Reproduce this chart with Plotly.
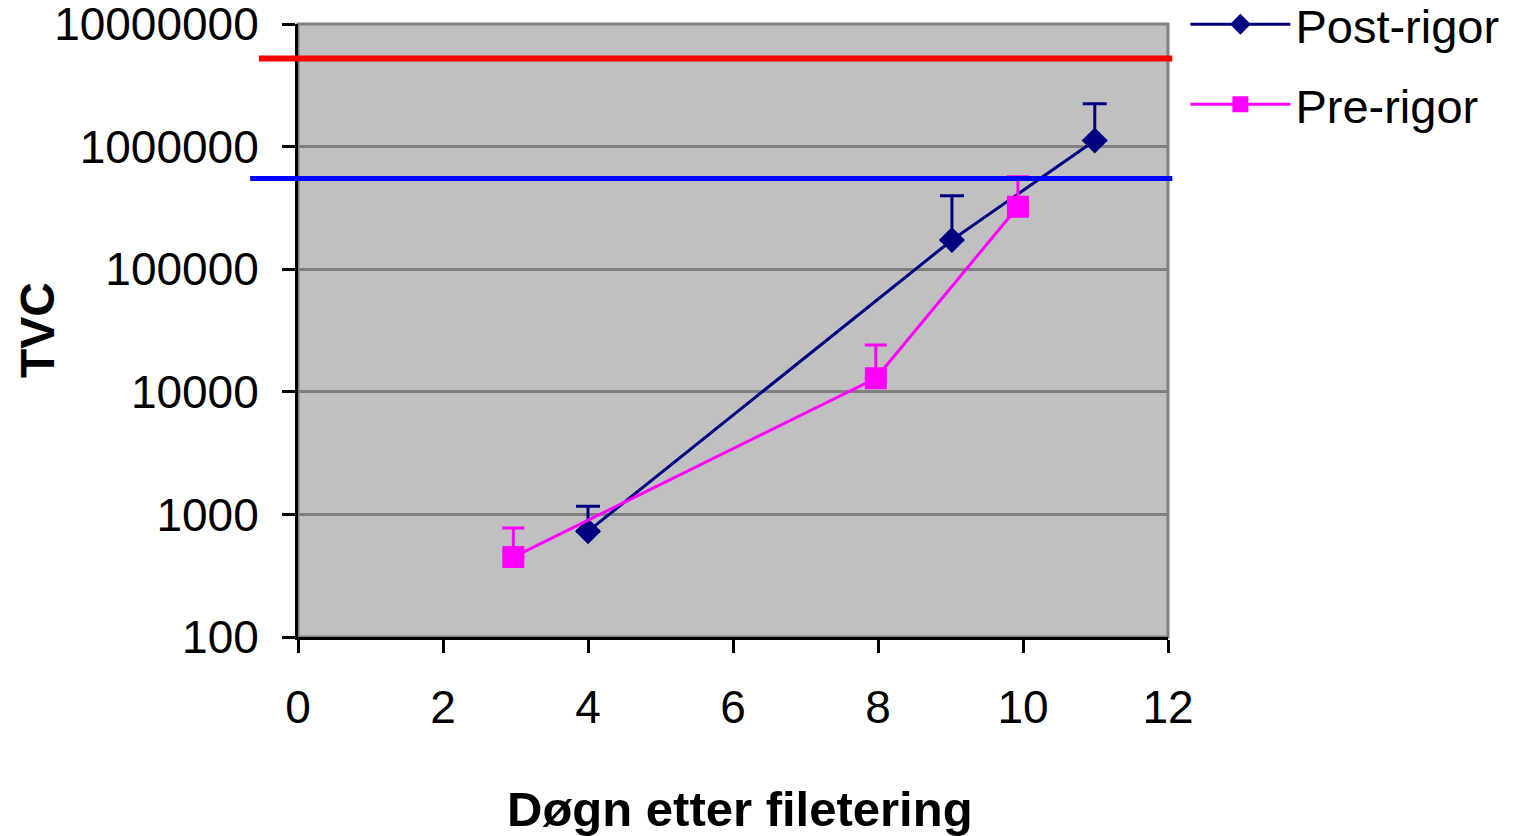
import plotly.graph_objects as go

# ---- data ----
post_days = [4, 9.02, 10.99]
post_tvc = [728, 173000, 1120000]
post_err_plus = [436, 224000, 1120000]

pre_days = [2.97, 7.97, 9.93]
pre_tvc = [449, 12900, 323000]
pre_err_plus = [325, 11200, 244000]

red_limit = 5230000
blue_limit = 550000

y_tick_vals = [100, 1000, 10000, 100000, 1000000, 10000000]
y_tick_text = ["100", "1000", "10000", "100000", "1000000", "10000000"]
x_tick_vals = [0, 2, 4, 6, 8, 10, 12]

FONT = "Liberation Sans, Arial, sans-serif"
NAVY = "#000080"
MAGENTA = "#FF00FF"

fig = go.Figure()

fig.add_trace(go.Scatter(
    x=post_days, y=post_tvc, name="Post-rigor", mode="lines+markers",
    legendgroup="post",
    line=dict(color=NAVY, width=3),
    marker=dict(symbol="diamond", size=20, color=NAVY),
    error_y=dict(type="data", symmetric=False, array=post_err_plus,
                 arrayminus=[0] * len(post_tvc), color=NAVY, thickness=3, width=12),
))
fig.add_trace(go.Scatter(
    x=pre_days, y=pre_tvc, name="Pre-rigor", mode="lines+markers",
    legendgroup="pre",
    line=dict(color=MAGENTA, width=3),
    marker=dict(symbol="square", size=22, color=MAGENTA),
    error_y=dict(type="data", symmetric=False, array=pre_err_plus,
                 arrayminus=[0] * len(pre_tvc), color=MAGENTA, thickness=3, width=11),
))

shapes = [
    # grey plot frame (top and right edges)
    dict(type="rect", xref="paper", yref="paper", x0=0, x1=1, y0=0, y1=1,
         line=dict(color="#808080", width=3), fillcolor="rgba(0,0,0,0)", layer="below"),
    dict(type="line", xref="paper", yref="y", x0=-0.045, x1=1.005,
         y0=red_limit, y1=red_limit, line=dict(color="#FF0000", width=6), layer="above"),
    dict(type="line", xref="paper", yref="y", x0=-0.055, x1=1.005,
         y0=blue_limit, y1=blue_limit, line=dict(color="#0000FF", width=5), layer="above"),
]

fig.update_layout(
    width=1517, height=836,
    margin=dict(l=298, r=349, t=24, b=199, autoexpand=False),
    paper_bgcolor="white",
    plot_bgcolor="#C0C0C0",
    font=dict(family=FONT, size=46, color="black"),
    shapes=shapes,
    annotations=[dict(
        text="<b>TVC</b>", textangle=-90, showarrow=False,
        xref="paper", yref="paper", x=-0.2994, y=0.5,
        xanchor="center", yanchor="middle",
        font=dict(family=FONT, size=48, color="black"),
    )],
    showlegend=True,
    legend=dict(
        x=1.020, y=1.06, xanchor="left", yanchor="top",
        font=dict(family=FONT, size=47, color="black"),
        bgcolor="rgba(0,0,0,0)", traceorder="grouped", tracegroupgap=16,
        itemwidth=100,
    ),
    xaxis=dict(
        range=[0, 12], tickvals=x_tick_vals, showgrid=False, zeroline=False,
        showline=True, linecolor="black", linewidth=3,
        ticks="outside", ticklen=13, tickwidth=3, tickcolor="black",
        ticklabelstandoff=15,
        tickfont=dict(family=FONT, size=46, color="black"),
        title=dict(text="<b>\u00a0Døgn etter filetering</b>", standoff=60,
                   font=dict(family=FONT, size=49, color="black")),
        automargin=False,
    ),
    yaxis=dict(
        type="log", range=[2, 7], tickvals=y_tick_vals, ticktext=y_tick_text,
        showgrid=True, gridcolor="#808080", gridwidth=3, zeroline=False,
        showline=True, linecolor="black", linewidth=3,
        ticks="outside", ticklen=13, tickwidth=3, tickcolor="black",
        ticklabelstandoff=14, ticklabeloverflow="allow",
        tickfont=dict(family=FONT, size=46, color="black"),
        automargin=False,
    ),
)

fig.write_html("out.html", config={"displayModeBar": False},
               post_script="document.body.style.margin='0';")
